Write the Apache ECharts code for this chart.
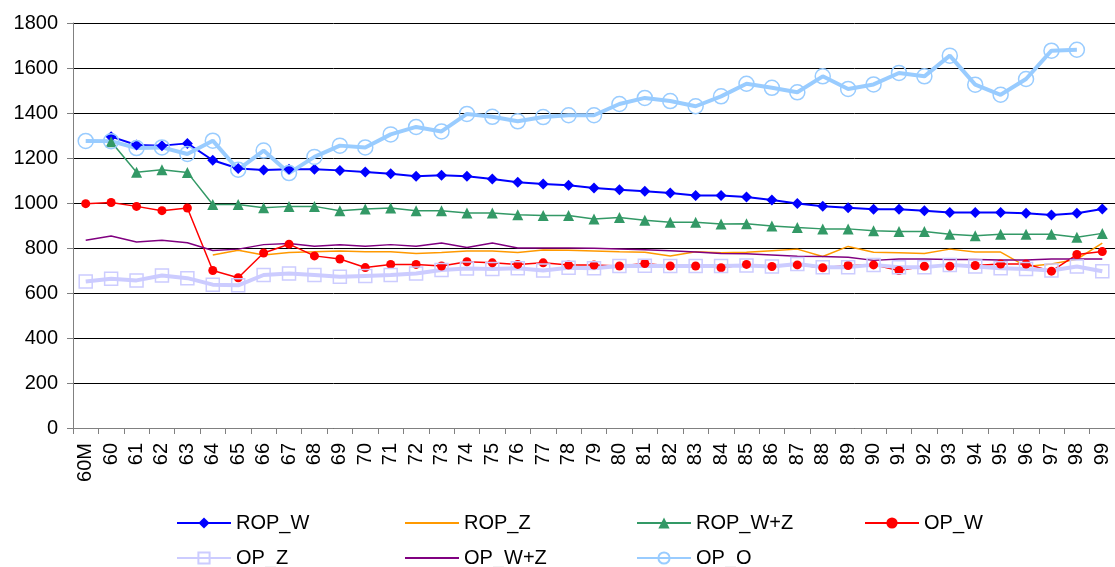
<!DOCTYPE html>
<html>
<head>
<meta charset="utf-8">
<script src="https://cdn.jsdelivr.net/npm/echarts@6/dist/echarts.min.js"></script>
<style>
html, body { margin: 0; padding: 0; background: #fff; }
#chart { width: 1115px; height: 567px; }
</style>
</head>
<body>
<div id="chart"></div>
<script>
var years = ['60M', '60', '61', '62', '63', '64', '65', '66', '67', '68', '69',
	'70', '71', '72', '73', '74', '75', '76', '77', '78', '79',
	'80', '81', '82', '83', '84', '85', '86', '87', '88', '89',
	'90', '91', '92', '93', '94', '95', '96', '97', '98', '99'];

var ropW = [null, 1295, 1258, 1255, 1265, 1190, 1153, 1147, 1150, 1150, 1145, 1138, 1130, 1119, 1123, 1119, 1107, 1092, 1084, 1079, 1067,
	1059, 1052, 1044, 1033, 1033, 1027, 1013, 998, 986, 979, 972, 972, 966, 958, 958, 958, 954, 947, 954, 973];
var ropZ = [null, null, null, null, null, 769, 790, 769, 780, 783, 787, 783, 783, 776, 780, 787, 787, 780, 791, 790, 787,
	783, 781, 764, 783, 779, 781, 788, 795, 762, 807, 781, 779, 776, 795, 782, 782, 718, 729, 750, 822];
var ropWZ = [null, 1272, 1137, 1148, 1136, 993, 993, 979, 985, 985, 966, 973, 978, 966, 966, 956, 956, 948, 944, 944, 929,
	936, 923, 914, 914, 907, 908, 898, 891, 885, 885, 877, 873, 873, 861, 854, 861, 861, 861, 848, 865];
var opW = [997, 1002, 985, 966, 978, 700, 668, 778, 817, 765, 751, 713, 727, 727, 720, 739, 734, 727, 734, 724, 724,
	720, 731, 720, 720, 712, 727, 718, 725, 712, 722, 725, 700, 719, 719, 722, 729, 729, 697, 771, 784];
var opZ = [651, 663, 656, 678, 666, 637, 634, 680, 687, 680, 672, 676, 680, 687, 702, 709, 707, 710, 700, 712, 710,
	720, 721, 720, 720, 720, 722, 718, 729, 715, 715, 725, 715, 715, 725, 718, 710, 707, 700, 718, 697];
var opWZ = [834, 853, 827, 834, 823, 789, 795, 815, 820, 808, 814, 808, 815, 808, 822, 802, 822, 800, 800, 800, 799,
	796, 792, 788, 782, 776, 774, 769, 763, 762, 759, 745, 751, 751, 749, 749, 747, 747, 751, 751, 751];
var opO = [1276, 1275, 1244, 1247, 1218, 1277, 1148, 1233, 1133, 1205, 1255, 1247, 1305, 1338, 1318, 1396, 1383, 1363, 1382, 1390, 1390,
	1440, 1467, 1453, 1430, 1474, 1530, 1512, 1492, 1563, 1507, 1527, 1578, 1563, 1655, 1526, 1481, 1551, 1677, 1681, null];

var font = 'Liberation Sans, Arial, sans-serif';

// legend laid out as a grid: one legend per item
// plain lines (no marker) get a hidden symbol in the legend
var legendSlots = [
	['ROP_W', 176, 513, true], ['ROP_Z', 404, 513, false], ['ROP_W+Z', 636, 513, true], ['OP_W', 864, 513, true],
	['OP_Z', 176, 548, true], ['OP_W+Z', 404, 548, false], ['OP_O', 636, 548, true]
];
var legends = legendSlots.map(function (s) {
	var item = { name: s[0] };
	if (!s[3]) item.itemStyle = { opacity: 0 };
	return {
		data: [item],
		left: s[1],
		top: s[2],
		padding: 0,
		itemWidth: 54,
		itemHeight: 14,
		itemGap: 0,
		textStyle: { fontFamily: font, fontSize: 20, color: '#000', lineHeight: 20 }
	};
});

var chart = echarts.init(document.getElementById('chart'));
var option = {
	animation: false,
	backgroundColor: '#fff',
	legend: legends,
	grid: { left: 73, top: 23, bottom: 139, right: -9, containLabel: false },
	xAxis: {
		type: 'category',
		data: years,
		boundaryGap: true,
		axisLine: { lineStyle: { color: '#808080', width: 1 } },
		axisTick: { show: true, length: 6, lineStyle: { color: '#808080' } },
		axisLabel: { rotate: 90, interval: 0, fontFamily: font, fontSize: 20, color: '#000', margin: 15 }
	},
	yAxis: {
		type: 'value',
		min: 0,
		max: 1800,
		interval: 200,
		axisLine: { show: true, lineStyle: { color: '#808080', width: 1 } },
		axisTick: { show: true, length: 6, lineStyle: { color: '#808080' } },
		axisLabel: {
			fontFamily: font, fontSize: 20, color: '#000', margin: 15,
			formatter: function (v) { return String(v); }
		},
		splitLine: { lineStyle: { color: '#000', width: 1 } }
	},
	series: [
		{
			name: 'ROP_W', type: 'line', data: ropW,
			symbol: 'diamond', symbolSize: 11,
			lineStyle: { color: '#0000FF', width: 2 },
			itemStyle: { color: '#0000FF' }
		},
		{
			name: 'ROP_Z', type: 'line', data: ropZ,
			symbol: 'none',
			lineStyle: { color: '#FF9900', width: 1.5 },
			itemStyle: { color: '#FF9900' }
		},
		{
			name: 'ROP_W+Z', type: 'line', data: ropWZ,
			symbol: 'triangle', symbolSize: 11,
			lineStyle: { color: '#339966', width: 1.5 },
			itemStyle: { color: '#339966' }
		},
		{
			name: 'OP_W', type: 'line', data: opW,
			symbol: 'circle', symbolSize: 9,
			lineStyle: { color: '#FF0000', width: 1.5 },
			itemStyle: { color: '#FF0000' }
		},
		{
			name: 'OP_Z', type: 'line', data: opZ,
			symbol: 'rect', symbolSize: 13,
			lineStyle: { color: '#CCCCFF', width: 4 },
			itemStyle: { color: 'rgba(255,255,255,0)', borderColor: '#CCCCFF', borderWidth: 1.5 }
		},
		{
			name: 'OP_W+Z', type: 'line', data: opWZ,
			symbol: 'none',
			lineStyle: { color: '#800080', width: 1.5 },
			itemStyle: { color: '#800080' }
		},
		{
			name: 'OP_O', type: 'line', data: opO,
			symbol: 'circle', symbolSize: 15,
			lineStyle: { color: '#99CCFF', width: 4 },
			itemStyle: { color: 'rgba(255,255,255,0)', borderColor: '#99CCFF', borderWidth: 1.5 }
		}
	]
};
chart.setOption(option);
</script>
</body>
</html>
